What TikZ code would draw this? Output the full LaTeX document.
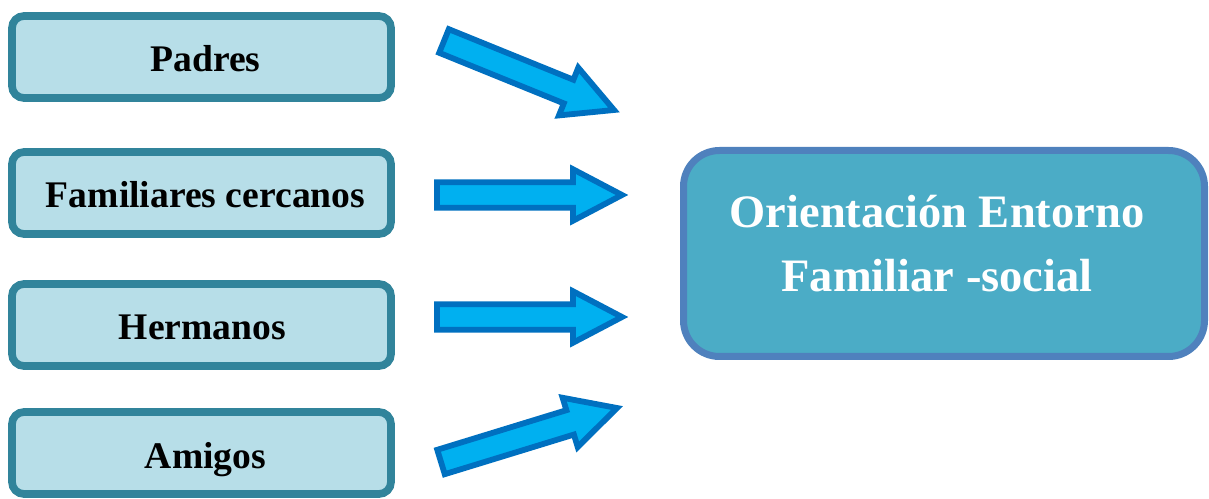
\documentclass[tikz,border=0pt]{standalone}
\usepackage{fontspec}
\setmainfont{Liberation Serif}
\usetikzlibrary{calc}
\usetikzlibrary{positioning}

\definecolor{bordecaja}{HTML}{31849B}
\definecolor{fondocaja}{HTML}{B7DEE8}
\definecolor{bordesalida}{HTML}{4F81BD}
\definecolor{fondosalida}{HTML}{4BACC6}
\definecolor{bordeflecha}{HTML}{0070C0}
\definecolor{fondoflecha}{HTML}{00B0F0}

% flecha de bloque: cola, punta
\newcommand{\flecha}[2]{%
  \draw[bloque] let \p1=($(#2)-(#1)$), \n1={atan2(\y1,\x1)}, \n2={veclen(\x1,\y1)}, \n3={\n2-49} in
    ($(#1)+(\n1+90:12.75)$) -- ($(#1)+(\n1:\n3)+(\n1+90:12.75)$) --
    ($(#1)+(\n1:\n3)+(\n1+90:25.75)$) -- (#2) --
    ($(#1)+(\n1:\n3)+(\n1-90:25.75)$) -- ($(#1)+(\n1:\n3)+(\n1-90:12.75)$) --
    ($(#1)+(\n1-90:12.75)$) -- cycle;}

\begin{document}
\begin{tikzpicture}[x=1pt,y=1pt,
    caja/.style={draw=bordecaja, fill=fondocaja, line width=7.7pt, rounded corners=12pt,
      minimum width=379pt, minimum height=82pt, inner sep=0pt,
      font=\fontsize{37.6}{44}\selectfont\bfseries, text height=30pt, text depth=0pt},
    salida/.style={draw=bordesalida, fill=fondosalida, line width=7pt, rounded corners=36pt,
      minimum width=521pt, minimum height=206pt, inner sep=0pt},
    titulo/.style={text=white, align=center, inner sep=0pt,
      font=\fontsize{46.5}{64}\selectfont\bfseries},
    bloque/.style={draw=bordeflecha, fill=fondoflecha, line width=5.8pt, line join=miter}]
  \useasboundingbox (0,0) rectangle (1209,498);

  % origenes
  \node[caja] (padres) at (201.5,441) {\hspace*{8pt}Padres};
  \node[caja] (familiares) at (201.5,305) {\hspace*{8pt}Familiares cercanos};
  \node[caja] (hermanos) at (201.5,173) {\hspace*{2pt}Hermanos};
  \node[caja] (amigos) at (201.5,45) {\hspace*{8pt}Amigos};

  % destino
  \node[salida] (orient) at (944,244.5) {};
  \node[titulo] (orienttxt) at (937,254.5) {Orientación Entorno\\Familiar -social};

  % flechas
  \coordinate (c1) at (444,457); \coordinate (p1) at (614,388);
  \coordinate (c2) at (437,303); \coordinate (p2) at (622,303);
  \coordinate (c3) at (437,181); \coordinate (p3) at (622,181);
  \coordinate (c4) at (441,36);  \coordinate (p4) at (617,90);
  \flecha{c1}{p1}
  \flecha{c2}{p2}
  \flecha{c3}{p3}
  \flecha{c4}{p4}
\end{tikzpicture}
\end{document}
